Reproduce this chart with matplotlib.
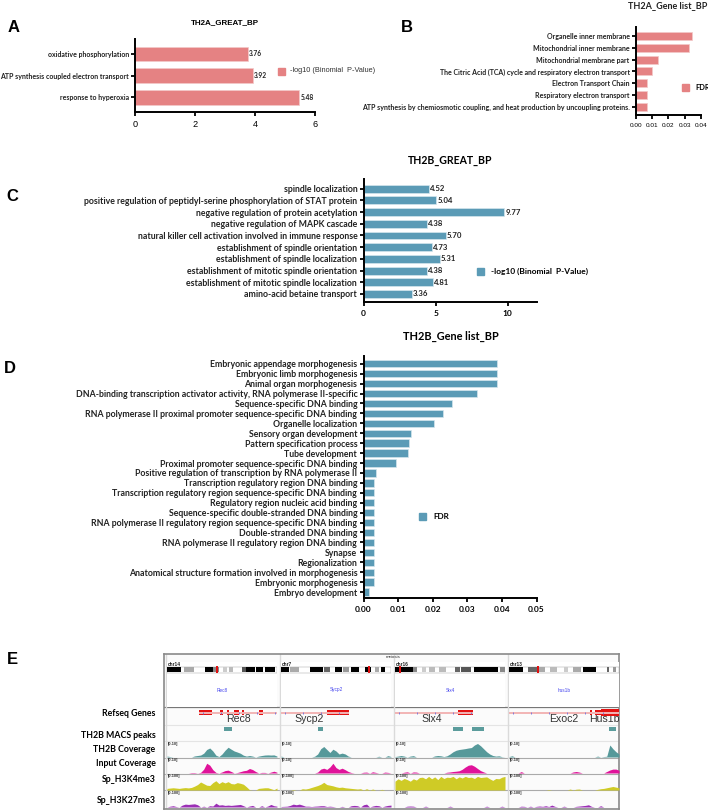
import matplotlib
matplotlib.use('Agg')
from matplotlib import pyplot as plt

W, H = 708, 810
RED = '#E58283'
BLUE = '#5B9BB6'

# panel A
a_terms = ['oxidative phosphorylation', 'ATP synthesis coupled electron transport', 'response to hyperoxia']
a_vals = [3.76, 3.92, 5.48]

# panel B
b_terms = ['Organelle inner membrane', 'Mitochondrial inner membrane', 'Mitochondrial membrane part',
           'The Citric Acid (TCA) cycle and respiratory electron transport', 'Electron Transport Chain',
           'Respiratory electron transport',
           'ATP synthesis by chemiosmotic coupling, and heat production by uncoupling proteins.']
b_vals = [0.0345, 0.0325, 0.0137, 0.0100, 0.0065, 0.0065, 0.0065]

# panel C
c_terms = ['spindle localization', 'positive regulation of peptidyl-serine phosphorylation of STAT protein',
           'negative regulation of protein acetylation', 'negative regulation of MAPK cascade',
           'natural killer cell activation involved in immune response', 'establishment of spindle orientation',
           'establishment of spindle localization', 'establishment of mitotic spindle orientation',
           'establishment of mitotic spindle localization', 'amino-acid betaine transport']
c_vals = [4.52, 5.04, 9.77, 4.38, 5.70, 4.73, 5.31, 4.38, 4.81, 3.36]

# panel D
d_terms = ['Embryonic appendage morphogenesis', 'Embryonic limb morphogenesis', 'Animal organ morphogenesis',
           'DNA-binding transcription activator activity, RNA polymerase II-specific',
           'Sequence-specific DNA binding', 'RNA polymerase II proximal promoter sequence-specific DNA binding',
           'Organelle localization', 'Sensory organ development', 'Pattern specification process',
           'Tube development', 'Proximal promoter sequence-specific DNA binding',
           'Positive regulation of transcription by RNA polymerase II',
           'Transcription regulatory region DNA binding',
           'Transcription regulatory region sequence-specific DNA binding',
           'Regulatory region nucleic acid binding', 'Sequence-specific double-stranded DNA binding',
           'RNA polymerase II regulatory region sequence-specific DNA binding', 'Double-stranded DNA binding',
           'RNA polymerase II regulatory region DNA binding', 'Synapse', 'Regionalization',
           'Anatomical structure formation involved in morphogenesis', 'Embryonic morphogenesis',
           'Embryo development']
d_vals = [0.0387, 0.0387, 0.0387, 0.0328, 0.0256, 0.0231, 0.0203, 0.0136, 0.0132, 0.0129, 0.0095,
          0.0037, 0.0031, 0.0031, 0.0031, 0.0031, 0.0031, 0.0031, 0.0031, 0.0031, 0.0031, 0.0031, 0.0031,
          0.0016]

# panel E, one list per locus
loci = ['Rec8', 'Sycp2', 'Slx4', 'hus1b']
chroms = ['chr14', 'chr7', 'chr16', 'chr13']
ideograms = [
    [(0, 14, 'k'), (17, 27, '#aaa'), (38, 46, 'k'), (46, 52, '#888'), (56, 60, '#ccc'), (62, 66, '#bbb'),
     (75, 79, '#555'), (79, 88, 'k'), (89, 96, 'k'), (98, 108, 'k')],
    [(0, 8, 'k'), (9, 18, '#aaa'), (29, 42, 'k'), (43, 49, '#666'), (54, 61, 'k'), (62, 68, '#999'),
     (70, 78, 'k'), (84, 90, 'k'), (94, 98, '#aaa'), (100, 104, 'k')],
    [(0, 18, 'k'), (18, 22, '#888'), (27, 31, '#ccc'), (34, 40, '#bbb'), (44, 51, '#bbb'), (60, 65, '#666'),
     (66, 76, '#555'), (79, 103, 'k'), (105, 110, '#888')],
    [(0, 14, 'k'), (19, 28, '#666'), (29, 36, '#aaa'), (41, 48, '#bbb'), (55, 59, '#ccc'), (64, 72, '#aaa'),
     (74, 87, 'k'), (98, 100, '#666'), (104, 107, '#999')],
]
ideogram_marks = [49, 87, 4, 28]
introns = [(32, 110), (0, 68), (0, 78), (0, 110)]
exons = [
    [(32, 45), (53, 56), (60, 62), (67, 72), (75, 77), (92, 96)],
    [(46, 68)],
    [(63, 78)],
    [(81, 83), (86, 93)],
]
thick_exons = [[], [], [], [(92, 110)]]
macs_peaks = [[(57, 65)], [(37, 42)], [(58, 68), (77, 89)], [(100, 107)]]
gene_names = [('Rec8', 238), ('Sycp2', 309), ('Slx4', 431.5), ('Exoc2', 564), ('Hus1b', 604)]

th2b_cov = [
    [.6, .3, 0, 0, 0, 0, 0, 0, 0, .7, 1, 1.3, 2.5, 5, 6, 4, 1.2, .3, 2, 4.5, 6.5, 5.2, 4, 3.3, 2.5, 1.2, .6, 1, .6,
     0, .6, 1, 1.3, 1.4, 1.3, 1.4, .6],
    [.6, 0, 0, 0, 0, 0, 0, 0, 0, 0, 0, .5, 2, 5.5, 7, 5, 3, 5.2, 4, 2, 2.6, 2, .6, 0, 0, 0, 0, 0, 0, 0, 0, 0, .5, 0,
     0, .9, .3],
    [.3, .6, 1, .6, 0, .6, .9, 0, 0, 0, 0, 0, 0, .7, 1, .8, .3, .8, 2, 3.5, 4.5, 5, 5.3, 5.6, 6, 6.3, 8, 9, 7.5, 5.5,
     3.5, 2, 1, .6, .8, .2, 0],
    [.3, .8, 0, 0, 0, 0, 0, 0, 0, 0, 0, 0, 0, 0, 0, 0, 0, 0, 0, 0, 0, 0, 0, 0, 0, 0, 0, 0, 0, .6, 0, .3, .5, 8, 5.5,
     3.5, 2],
]
input_cov = [
    [0, 0, 0, 0, 0, 0, 0, 0, .3, .3, 0, .4, 2.5, 6.5, 5.2, 2.2, .4, 0, .7, 1.6, 1.9, 1, 0, .3, .9, 1.5, 1.8, 3, 2.3,
     1, 0, .4, .4, 0, .6, 1.2, .5],
    [0, 0, 0, 0, 0, 0, 0, 0, 0, 0, 0, 0, .6, 2.6, 3.2, 2.4, 4, 6.5, 3.6, 2.4, 3.2, 2.2, 1, .3, 0, 0, 0, .5, .6, 0,
     .8, .4, 0, 0, .6, .4, 0],
    [0, 0, 0, .5, .8, 0, .7, .6, 0, 0, 0, 0, 0, 0, 0, 0, 0, .5, .7, 1, 1.2, 1.5, 2.5, 4, 5.2, 5.5, 4.5, 3, 1.6, .7, 0,
     0, 0, 0, 0, 0, 0],
    [0, 0, 0, 0, .9, 0, 0, 0, 0, 0, 0, 0, 0, 0, 0, 0, 0, 0, 0, 0, 0, .7, 1, .6, 0, 0, 0, 0, 0, 0, 0, 0, 1, 2, 2.6,
     2.6, 1.8],
]
k4me3_cov = [
    [10, 12, 14, 12, 10, 13, 15, 13, 16, 24, 34, 50, 40, 30, 28, 46, 58, 40, 52, 44, 52, 40, 38, 46, 42, 36, 20, 2, 0,
     0, 10, 12, 14, 14, 8, 2, 12],
    [0, 0, 0, 0, 3, 0, 0, 8, 6, 10, 16, 22, 28, 36, 48, 34, 30, 26, 20, 16, 18, 14, 12, 10, 8, 6, 8, 0, 8, 0, 6, 0,
     0, 4, 0, 0, 0],
    [55, 70, 60, 72, 65, 55, 70, 62, 78, 80, 70, 85, 70, 82, 65, 85, 72, 80, 78, 85, 70, 82, 75, 85, 78, 80, 72, 85,
     78, 80, 82, 70, 60, 72, 70, 80, 85],
    [0, 0, 0, 0, 0, 0, 0, 0, 0, 0, 0, 0, 0, 3, 0, 0, 0, 0, 0, 0, 6, 0, 5, 6, 0, 0, 0, 0, 0, 4, 8, 10, 14, 18, 22,
     18, 14],
]
k27me3_cov = [
    [0, 5, 8, 3, 0, 12, 18, 16, 18, 20, 14, 0, 5, 0, 8, 6, 24, 12, 14, 10, 12, 10, 12, 14, 16, 8, 0, 6, 10, 0, 0, 8,
     0, 6, 16, 8, 5],
    [3, 4, 5, 10, 18, 14, 18, 12, 5, 5, 3, 5, 6, 8, 8, 3, 5, 3, 0, 0, 4, 0, 0, 8, 10, 8, 0, 14, 18, 0, 6, 10, 8, 0,
     6, 10, 12],
    [0, 0, 0, 0, 5, 6, 5, 0, 0, 0, 5, 0, 0, 0, 0, 0, 0, 0, 5, 0, 0, 0, 0, 0, 0, 0, 0, 0, 0, 0, 5, 0, 0, 0, 0, 5, 0],
    [0, 0, 0, 0, 5, 4, 0, 5, 0, 4, 6, 4, 8, 3, 12, 4, 0, 0, 5, 0, 0, 0, 4, 6, 8, 10, 14, 4, 0, 0, 8, 0, 0, 0, 0, 0, 0],
]
track_names = ['TH2B MACS peaks', 'TH2B Coverage', 'Input Coverage', 'Sp_H3K4me3', 'Sp_H3K27me3']


def px_axes(left, top, right, bottom):
    return fig.add_axes([left / W, 1 - bottom / H, (right - left) / W, (bottom - top) / H])


def px_text(x, y, s, **kw):
    kw.setdefault('va', 'center')
    return fig.text(x / W, 1 - y / H, s, **kw)


def bar_panel(rect, terms, vals, color, xlim, xticks, xfmt, pads, bar_h, size, tick_font, tick_size, val_size=None):
    ax = px_axes(*rect)
    ypos = list(range(len(terms)))
    ax.barh(ypos, vals, height=bar_h, color=color, edgecolor='#D5E6EE' if color == BLUE else '#F3C9C9', linewidth=.5)
    ax.set_xlim(*xlim)
    ax.set_ylim(len(terms) - 1 + pads[1], -pads[0])
    ax.set_yticks(ypos)
    ax.set_yticklabels(terms, fontsize=size, fontweight='bold', fontfamily='Lato', color='#222222')
    ax.set_xticks(xticks)
    ax.set_xticklabels([xfmt % t for t in xticks], **tick_font, fontsize=tick_size)
    ax.tick_params(axis='both', length=3, width=1.3, pad=1.5)
    ax.tick_params(axis='x', pad=3)
    for s in ['top', 'right']:
        ax.spines[s].set_visible(False)
    for s in ['left', 'bottom']:
        ax.spines[s].set_linewidth(1.4)
    if val_size:
        for y, v in zip(ypos, vals):
            ax.text(v + xlim[1] * .006, y, '%.2f' % v, va='center', fontsize=val_size, fontweight='bold',
                    fontfamily='Lato', color='#222222')
    return ax


def legend_item(x, y, label, swatch, tx, **kw):
    key.add_patch(plt.Rectangle((x - 3.5, y - 3.5), 7, 7, color=swatch))
    px_text(tx, y, label, **kw)


fig = plt.figure(figsize=(W / 100, H / 100), dpi=100)
key = fig.add_axes([0, 0, 1, 1], zorder=5)
key.set_xlim(0, W)
key.set_ylim(H, 0)
key.axis('off')

arial = dict(fontfamily='Liberation Sans')
bold = dict(fontfamily='Lato', fontweight='bold')

bar_panel((135, 39, 315, 112), a_terms, a_vals, RED, (0, 6), [0, 2, 4, 6], '%d', (.69, .67), .67, 5, arial, 6.6, 4.8)
bar_panel((636, 27, 700.7, 115), b_terms, b_vals, RED, (0, .04), [0, .01, .02, .03, .04], '%.2f', (.76, .68), .68,
          5.05, arial, 4.6)
bar_panel((363.5, 179, 536.5, 301.7), c_terms, c_vals, BLUE, (0, 12), [0, 5, 10], '%d', (.83, .66), .68, 6.3, bold,
          6, 5.6)
bar_panel((363.5, 356, 536.5, 597.7), d_terms, d_vals, BLUE, (0, .05), [0, .01, .02, .03, .04, .05], '%.2f',
          (.78, .57), .74, 6.35, bold, 6)

px_text(225, 23, 'TH2A_GREAT_BP', ha='center', fontsize=5.8, fontweight='bold', **arial)
px_text(668, 6, 'TH2A_Gene list_BP', ha='center', fontsize=6.5, color='#222222', fontfamily='Lato', fontweight='bold')
px_text(450, 161, 'TH2B_GREAT_BP', ha='center', fontsize=7.6, **bold)
px_text(450.5, 336.7, 'TH2B_Gene list_BP', ha='center', fontsize=7.9, **bold)

for x, y, s in [(14, 28, 'A'), (407, 28, 'B'), (12, 196.7, 'C'), (10, 369, 'D'), (12, 660, 'E')]:
    px_text(x, y, s, ha='center', fontsize=12, fontweight='bold', **arial)

legend_item(281, 71, '-log10 (Binomial  P-Value)', RED, 290, fontsize=5.3, color='#333333', **arial)
legend_item(685, 87, 'FDR', RED, 695, fontsize=5.4, **bold)
legend_item(480.5, 271.7, '-log10 (Binomial  P-Value)', BLUE, 491, fontsize=6.05, **bold)
legend_item(422, 516.7, 'FDR', BLUE, 433, fontsize=5.9, **bold)

# panel E, frame and rows
FL, FT, FR, FB = 164, 654, 619, 808.5
frame = px_axes(FL, FT, FR, FB)
frame.set_xlim(FL, FR)
frame.set_ylim(FB, FT)
frame.set_xticks([])
frame.set_yticks([])
frame.patch.set_facecolor('#FBFBFB')
for s in frame.spines.values():
    s.set_color('#8A8A8A')
    s.set_linewidth(1.2)
frame.text(393, 657.5, 'meiosis', fontsize=3.2, ha='center', va='center', color='#333333', **arial)
frame.axhline(707, color='#777777', lw=.9)
for y in [725, 741]:
    frame.axhline(y, color='#E4E4E4', lw=.8)
for y in [757.5, 773.5, 790]:
    frame.axhline(y, color='#AAAAAA', lw=.8)

cols = [(167, 277), (281, 391), (395, 505), (509, 619)]
for i, (c0, c1) in enumerate(cols):
    frame.axvline(c0 - 1.5, color='#DADADA', lw=1)
    # ideogram
    head = px_axes(c0, 662, c1, 707)
    head.set_xlim(0, 110)
    head.set_ylim(45, 0)
    head.axis('off')
    head.add_patch(plt.Rectangle((0, 0), 110, 45, color='white', lw=0, zorder=0))
    head.add_patch(plt.Rectangle((0, 5), 110, 5.5, fc='white', ec='#999999', lw=.3))
    for b0, b1, col in ideograms[i]:
        head.broken_barh([(b0, b1 - b0)], (5, 5.5), color=col, lw=0)
    head.broken_barh([(ideogram_marks[i], 1.6)], (4.5, 6.5), color='#E01010', lw=0)
    head.text(1, 2.2, chroms[i], fontsize=3.4, fontweight='bold', va='center', color='#222222', **arial)
    head.text(55, 28, loci[i], fontsize=3.4, color='#4444EE', ha='center', va='center', **arial)

    # gene models
    gene = px_axes(c0, 708, c1, 724)
    gene.set_xlim(0, 110)
    gene.set_ylim(16, 0)
    gene.axis('off')
    gene.plot(introns[i], [4.7, 4.7], color='#F2B5B5', lw=1.4, solid_capstyle='butt')
    tick_x = list(range(introns[i][0] + 4, introns[i][1], 18))
    gene.plot(tick_x, [4.7] * len(tick_x), ls='none', marker='|', ms=1.8, mew=.6, color='#7070DD')
    for e0, e1 in exons[i]:
        gene.broken_barh([(e0, e1 - e0)], (2.3, 4.8), color='#E31212', lw=0)
    for e0, e1 in thick_exons[i]:
        gene.broken_barh([(e0, e1 - e0)], (1.5, 6.4), color='#E31212', lw=0)

    # peaks
    peak = px_axes(c0, 725, c1, 741)
    peak.set_xlim(0, 110)
    peak.set_ylim(16, 0)
    peak.axis('off')
    for p0, p1 in macs_peaks[i]:
        peak.broken_barh([(p0, p1 - p0)], (1.8, 4.2), color='#5B9C9C', lw=0)

    # coverage tracks
    tracks = [(th2b_cov[i], 742, 757, '#56999A', 10, '[0-10]'), (input_cov[i], 758, 773, '#E0139A', 10, '[0-10]'),
              (k4me3_cov[i], 774, 790, '#CFCB26', 100, '[0-100]'), (k27me3_cov[i], 791, 807, '#9B2FB5', 100, '[0-100]')]
    for vals, t0, t1, col, top, lab in tracks:
        tr = px_axes(c0, t0, c1, t1)
        tr.set_xlim(0, len(vals) - 1)
        tr.set_ylim(0, top)
        tr.axis('off')
        tr.fill_between(range(len(vals)), vals, where=[v > 0 or True for v in vals], color=col, lw=0)
        tr.text(.01, .87, lab, transform=tr.transAxes, fontsize=2.8, fontweight='bold', va='center', color='#333333',
                **arial)

for name, x in gene_names:
    frame.text(x, 719, name, fontsize=7.6, ha='center', va='center', color='#333333', clip_on=True, zorder=6, **arial)

px_text(155, 714, 'Refseq Genes', ha='right', fontsize=6.3, **bold)
for name, y in zip(track_names, [735, 750, 763.7, 780, 800.7]):
    px_text(155.5, y, name, ha='right', fontsize=6.3, **bold)

fig.savefig('out.png', dpi=100)
